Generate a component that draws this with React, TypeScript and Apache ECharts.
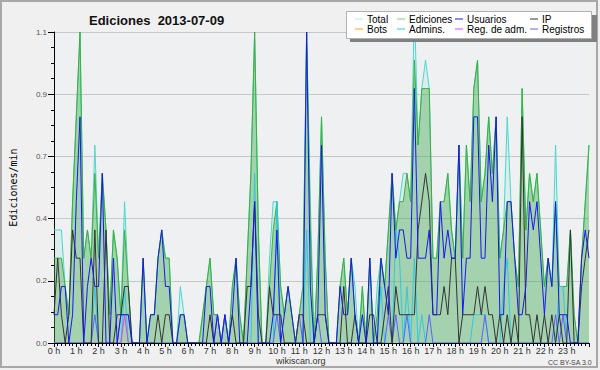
import React, { useEffect, useRef } from "react";
import * as echarts from "echarts";

// 10-minute buckets, index 0 = 00:00 ... index 144 = 24:00
const ediciones = [
  0.3, 0.3, 0.3, 0.2, 0.1, 0.5,
  0.8, 1.1, 0.3, 0.4, 0.3, 0.6,
  0.3, 0.6, 0.4, 0.1, 0.4, 0.3,
  0.1, 0.4, 0.2, 0, 0, 0,
  0.3, 0, 0.1, 0.1, 0.3, 0.4,
  0.3, 0.3, 0, 0, 0.1, 0.1,
  0, 0, 0, 0, 0.1, 0.2,
  0.3, 0.1, 0.1, 0, 0.1, 0,
  0.2, 0.3, 0.1, 0, 0.3, 0.6,
  1.1, 0.4, 0, 0, 0.2, 0.4,
  0.5, 0.2, 0.1, 0.2, 0.1, 0,
  0.1, 0.2, 1.1, 0.4, 0, 0.3,
  0.8, 0.3, 0, 0, 0, 0.2,
  0.3, 0.1, 0.3, 0.1, 0, 0.2,
  0, 0.3, 0, 0.1, 0.3, 0.2,
  0.4, 0.6, 0.4, 0.5, 0.5, 0.6,
  0.5, 1.0, 0.7, 0.9, 0.9, 0.9,
  0.3, 0.3, 0.5, 0.5, 0.6, 0.4,
  0.3, 0.7, 0.3, 0.7, 0.5, 0.9,
  1.0, 0.5, 0.6, 0.8, 0.6, 0.8,
  0.3, 0.4, 0.5, 0.5, 0.3, 0.2,
  0.9, 0.4, 0.6, 0.5, 0.6, 0.4,
  0.2, 0.3, 0.2, 0.5, 0.2, 0.2,
  0.2, 0.4, 0.1, 0, 0.3, 0.5,
  0.7,
];

const total = [
  0.4, 0.4, 0.4, 0.2, 0.1, 0.5,
  0.8, 1.1, 0.3, 0.4, 0.3, 0.7,
  0.3, 0.6, 0.4, 0.1, 0.4, 0.3,
  0.1, 0.5, 0.2, 0, 0, 0,
  0.3, 0, 0.1, 0.1, 0.3, 0.4,
  0.3, 0.3, 0, 0, 0.2, 0.1,
  0, 0, 0, 0, 0.1, 0.2,
  0.3, 0.1, 0.1, 0, 0.1, 0,
  0.2, 0.3, 0.1, 0, 0.3, 0.6,
  1.1, 0.4, 0, 0, 0.3, 0.5,
  0.5, 0.2, 0.1, 0.2, 0.1, 0,
  0.1, 0.2, 1.1, 0.5, 0, 0.3,
  0.8, 0.3, 0, 0, 0, 0.2,
  0.3, 0.1, 0.3, 0.2, 0, 0.2,
  0, 0.3, 0, 0.2, 0.3, 0.2,
  0.4, 0.6, 0.4, 0.5, 0.6, 0.6,
  0.5, 1.2, 0.7, 0.9, 1.0, 0.9,
  0.3, 0.3, 0.5, 0.5, 0.6, 0.4,
  0.3, 0.7, 0.3, 0.7, 0.5, 0.9,
  1.0, 0.5, 0.6, 0.8, 0.6, 0.8,
  0.3, 0.4, 0.8, 0.5, 0.3, 0.2,
  0.9, 0.4, 0.6, 0.5, 0.6, 0.4,
  0.2, 0.3, 0.2, 0.7, 0.2, 0.2,
  0.2, 0.4, 0.1, 0, 0.3, 0.5,
  0.7,
];

const usuarios = [
  0.1, 0.1, 0.2, 0.2, 0, 0.1,
  0.5, 0.8, 0, 0.2, 0.3, 0.2,
  0.2, 0.6, 0, 0, 0.3, 0,
  0.1, 0.1, 0.1, 0, 0, 0,
  0.3, 0, 0.1, 0.1, 0.3, 0.4,
  0.2, 0.2, 0, 0, 0.1, 0.1,
  0, 0, 0, 0, 0, 0.2,
  0.2, 0, 0.1, 0, 0.1, 0,
  0.1, 0.3, 0, 0, 0, 0.2,
  0.5, 0, 0, 0, 0, 0.1,
  0.4, 0, 0.1, 0.2, 0.1, 0,
  0, 0, 1.1, 0.2, 0, 0.1,
  0.7, 0.1, 0, 0, 0, 0.2,
  0.1, 0.1, 0.3, 0.1, 0, 0.1,
  0, 0.3, 0, 0, 0.3, 0.2,
  0.1, 0.6, 0.3, 0.4, 0.4, 0.3,
  0.3, 0.9, 0.3, 0.3, 0.3, 0.4,
  0.1, 0.1, 0.5, 0.3, 0.4, 0.3,
  0.3, 0.7, 0.1, 0.3, 0.3, 0.8,
  0.8, 0.3, 0.3, 0.7, 0.5, 0.8,
  0.1, 0.1, 0.5, 0.5, 0.3, 0.1,
  0.1, 0.2, 0.5, 0.4, 0.5, 0.3,
  0.1, 0.3, 0.2, 0.5, 0.1, 0.1,
  0.1, 0, 0, 0, 0.3, 0.4,
  0.3,
];

const ip = [
  0.1, 0.3, 0.1, 0, 0.1, 0.4,
  0.3, 0.3, 0, 0, 0, 0.4,
  0, 0, 0.4, 0, 0, 0.1,
  0.1, 0.2, 0.2, 0, 0, 0,
  0, 0, 0, 0, 0.1, 0,
  0.1, 0.1, 0, 0, 0, 0,
  0, 0, 0, 0, 0, 0,
  0.1, 0, 0, 0, 0, 0,
  0.1, 0, 0, 0, 0.2, 0.2,
  0.5, 0.1, 0, 0, 0.2, 0.1,
  0.1, 0.1, 0, 0, 0, 0,
  0.1, 0.1, 0, 0, 0, 0.1,
  0.1, 0.1, 0, 0, 0, 0,
  0.2, 0, 0, 0.1, 0, 0,
  0, 0.1, 0.1, 0, 0, 0.1,
  0.2, 0, 0.2, 0.1, 0.1, 0.1,
  0.1, 0.1, 0.4, 0.5, 0.6, 0.5,
  0.1, 0.1, 0.1, 0.2, 0.1, 0.3,
  0.3, 0, 0.1, 0.1, 0.1, 0.1,
  0.2, 0.1, 0.2, 0.1, 0.1, 0,
  0.1, 0, 0.1, 0, 0.1, 0,
  0.8, 0.1, 0.1, 0, 0.1, 0,
  0.1, 0, 0.1, 0, 0.1, 0,
  0, 0.4, 0, 0, 0.2, 0.3,
  0.4,
];

const admins = [
  0, 0, 0, 0, 0, 0,
  0, 0, 0, 0, 0, 0.2,
  0, 0, 0, 0, 0, 0,
  0, 0.2, 0, 0, 0, 0,
  0, 0, 0, 0, 0, 0,
  0, 0, 0, 0, 0, 0,
  0, 0, 0, 0, 0, 0,
  0, 0, 0, 0, 0, 0,
  0, 0, 0, 0, 0, 0,
  0.6, 0, 0, 0, 0, 0,
  0.5, 0, 0, 0, 0, 0,
  0, 0, 0.4, 0, 0, 0,
  0, 0, 0, 0, 0, 0,
  0, 0, 0, 0, 0, 0,
  0, 0, 0, 0, 0.2, 0,
  0, 0, 0.4, 0.3, 0, 0.2,
  0, 0.3, 0, 0.1, 0, 0,
  0, 0, 0, 0, 0, 0,
  0, 0, 0, 0, 0, 0.1,
  0.1, 0.1, 0.1, 0, 0, 0,
  0, 0.2, 0.3, 0, 0, 0,
  0, 0, 0, 0, 0, 0,
  0, 0, 0, 0, 0.2, 0.2,
  0, 0, 0, 0, 0, 0,
  0,
];

const registros = [
  0, 0, 0, 0, 0, 0,
  0, 0, 0, 0, 0, 0.1,
  0, 0, 0, 0, 0, 0,
  0.1, 0.1, 0.1, 0, 0, 0,
  0, 0, 0, 0, 0, 0,
  0, 0, 0, 0, 0, 0,
  0, 0, 0, 0, 0, 0,
  0, 0, 0.1, 0, 0.1, 0,
  0, 0, 0, 0, 0, 0,
  0, 0, 0, 0, 0, 0,
  0.1, 0, 0, 0, 0, 0,
  0.1, 0, 0, 0, 0, 0.1,
  0, 0, 0, 0, 0, 0,
  0, 0, 0, 0, 0, 0,
  0, 0, 0, 0, 0, 0,
  0.1, 0, 0.1, 0, 0, 0.1,
  0, 0, 0, 0, 0, 0.1,
  0, 0, 0, 0, 0, 0,
  0, 0, 0, 0, 0, 0,
  0, 0, 0.1, 0, 0, 0,
  0, 0, 0, 0, 0, 0,
  0, 0, 0, 0, 0, 0,
  0, 0, 0, 0.1, 0, 0.1,
  0, 0, 0, 0, 0, 0,
  0,
];

const regAdm = [
  0, 0, 0, 0, 0, 0,
  0, 0, 0, 0, 0, 0,
  0, 0, 0, 0, 0, 0,
  0, 0.1, 0, 0, 0, 0,
];

const bots: number[] = [];

const STEP_HOURS = 1 / 6;
const toPoints = (arr: number[]) => arr.map((v, i) => [i * STEP_HOURS, v]);

const legendColumns = [
  ["Total", "Bots"],
  ["Ediciones", "Admins."],
  ["Usuarios", "Reg. de adm."],
  ["IP", "Registros"],
];
const legendLeft = [355, 397, 455, 530];

const lineSeries = (name: string, arr: number[], color: string, z: number) => ({
  name,
  type: "line",
  data: toPoints(arr),
  symbol: "none",
  showSymbol: false,
  z,
  lineStyle: { color, width: 1 },
  itemStyle: { color },
});

export default function App() {
  const ref = useRef<HTMLDivElement>(null);
  useEffect(() => {
    document.body.style.margin = "0";
    const chart = echarts.init(ref.current!, null, { renderer: "svg" });
    const tickFont = { fontFamily: "Liberation Sans", fontSize: 8, color: "#333" };
    chart.setOption({
      animation: false,
      backgroundColor: "#f0f0f0",
      title: {
        text: "Ediciones  2013-07-09",
        left: 84,
        top: 9,
        textStyle: { fontFamily: "Liberation Sans", fontSize: 13, fontWeight: "bold", color: "#111" },
      },
      grid: {
        left: 46,
        right: 11,
        top: 32,
        bottom: 27,
        show: true,
        backgroundColor: "#eef0f1",
        borderWidth: 0,
      },
      legend: legendColumns.map((col, k) => ({
        data: col,
        orient: "vertical",
        left: legendLeft[k],
        top: 14,
        icon: "rect",
        itemWidth: 8,
        itemHeight: 1,
        itemGap: 0,
        padding: 0,
        selectedMode: false,
        z: 6,
        textStyle: { fontFamily: "Liberation Sans", fontSize: 10, color: "#000", lineHeight: 10, padding: [0, 0, 0, -1] },
      })),
      xAxis: {
        type: "value",
        min: 0,
        max: 24,
        interval: 1,
        z: 10,
        axisLine: { show: true, lineStyle: { color: "#000", width: 1 } },
        axisTick: { show: true, length: 4, lineStyle: { color: "#000" } },
        minorTick: { show: true, splitNumber: 6, length: 3, lineStyle: { color: "#000" } },
        splitLine: { show: false },
        axisLabel: {
          ...tickFont,
          fontSize: 9,
          margin: 3,
          formatter: (v: number) => (v < 24 ? `${v} h` : ""),
        },
      },
      yAxis: {
        type: "value",
        min: 0,
        max: 1.1,
        interval: 0.22,
        name: "Ediciones/min",
        nameLocation: "middle",
        nameRotate: 90,
        nameGap: 36,
        nameTextStyle: { fontFamily: "DejaVu Sans Mono", fontSize: 10, color: "#000" },
        axisLine: { show: true, lineStyle: { color: "#000", width: 1 } },
        axisTick: { show: true, length: 6, lineStyle: { color: "#000" } },
        minorTick: { show: true, splitNumber: 4, length: 3, lineStyle: { color: "#000" } },
        splitLine: { show: true, lineStyle: { color: "#c8c8c8", width: 1 } },
        axisLabel: { ...tickFont, color: "#555", margin: 7, formatter: (v: number) => v.toFixed(1) },
      },
      series: [
        {
          name: "Total",
          type: "line",
          data: toPoints(total),
          symbol: "none",
          z: 2,
          lineStyle: { color: "#48d8cc", width: 1 },
          itemStyle: { color: "#b4ece4" },
          areaStyle: { color: "rgba(72,216,204,0.15)" },
        },
        {
          name: "Ediciones",
          type: "line",
          data: toPoints(ediciones),
          symbol: "none",
          z: 3,
          lineStyle: { color: "#3cb03c", width: 1 },
          itemStyle: { color: "#78d078" },
          areaStyle: { color: "rgba(60,160,60,0.5)" },
        },
        lineSeries("Bots", bots, "#ffa020", 4),
        lineSeries("Admins.", admins, "#30c8e0", 4),
        lineSeries("Reg. de adm.", regAdm, "#e040f0", 4),
        lineSeries("Registros", registros, "#6060ff", 4),
        lineSeries("IP", ip, "#333333", 5),
        lineSeries("Usuarios", usuarios, "#1818e8", 6),
      ],
      graphic: [
        { type: "rect", z: 5, shape: { x: 350, y: 15, width: 247, height: 27 }, style: { fill: "#808080" } },
        { type: "rect", z: 5, shape: { x: 346.5, y: 11.5, width: 245, height: 27 }, style: { fill: "#ffffff", stroke: "#b0b0b0", lineWidth: 1 } },
        { type: "rect", z: 1, shape: { x: 1, y: 1, width: 596, height: 366 }, style: { fill: "none", stroke: "#a8a8a8", lineWidth: 2 } },
        { type: "text", z: 5, left: 276, top: 356, style: { text: "wikiscan.org", fontFamily: "Liberation Sans", fontSize: 9, fill: "#333" } },
        { type: "text", z: 5, left: 548, top: 359, style: { text: "CC BY-SA 3.0", fontFamily: "Liberation Sans", fontSize: 7, fill: "#444" } },
      ],
    });
    return () => chart.dispose();
  }, []);
  return <div ref={ref} style={{ width: 600, height: 370, position: "absolute", left: 0, top: 0 }} />;
}
